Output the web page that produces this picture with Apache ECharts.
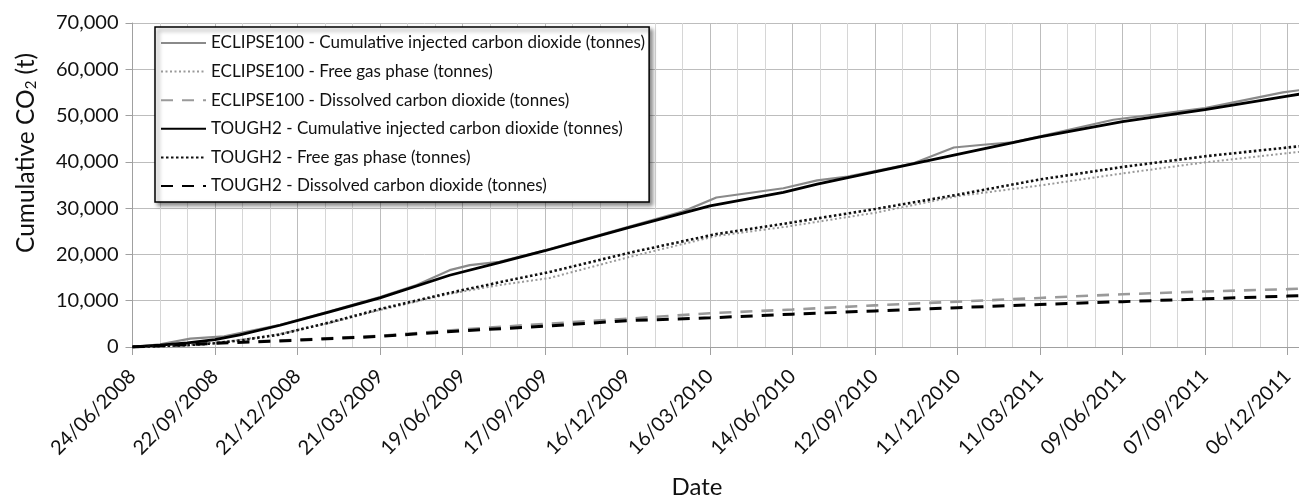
<!DOCTYPE html>
<html>
<head>
<meta charset="utf-8">
<script src="https://cdn.jsdelivr.net/npm/echarts@6/dist/echarts.min.js"></script>
<style>
html,body{margin:0;padding:0;background:#fff;}
#chart{width:1299px;height:497px;}
</style>
</head>
<body>
<div id="chart"></div>
<script>
// Day 0 = 24/06/2008; x values are days since that date
const START_DATE = [2008, 5, 24];
const X_MIN = 0, X_MAX = 1350, X_STEP = 90;
const Y_MIN = 0, Y_MAX = 70000, Y_STEP = 10000;

const seriesNames = [
  'ECLIPSE100 - Cumulative injected carbon dioxide (tonnes)',
  'ECLIPSE100 - Free gas phase (tonnes)',
  'ECLIPSE100 - Dissolved carbon dioxide (tonnes)',
  'TOUGH2 - Cumulative injected carbon dioxide (tonnes)',
  'TOUGH2 - Free gas phase (tonnes)',
  'TOUGH2 - Dissolved carbon dioxide (tonnes)'
];

const eclCumDays = [0,30,63,100,161,215,270,310,346,368,400,450,543,601,637,710,747,780,852,896,928,960,990,1070,1170,1255,1285];
const eclCumVals = [0,600,1800,2300,4800,7700,10800,13400,16600,17700,18400,20900,26100,29300,32300,34300,36000,36800,39700,43100,43700,44200,45500,49100,51600,55000,55800];

const eclFreeDays = [0,60,90,120,161,183,215,270,346,401,455,543,637,710,810,900,990,1080,1170,1260,1285];
const eclFreeVals = [0,500,900,1600,2800,3800,5200,8000,11500,13400,14900,19500,24000,25900,29000,32600,34900,37500,39900,41900,42400];

const eclDissDays = [0,60,90,120,183,270,360,450,540,630,720,810,900,990,1080,1170,1260,1285];
const eclDissVals = [0,700,1000,1100,1600,2400,3800,5000,6100,7300,8100,9000,9800,10600,11400,12000,12500,12700];

const tCumDays = [0,30,60,90,117,161,215,270,346,401,450,543,630,710,747,783,900,990,1080,1170,1260,1285];
const tCumVals = [0,400,900,1600,2600,4700,7600,10600,15500,18300,20800,25900,30500,33400,35200,36700,41600,45400,48700,51300,54200,55000];

const tFreeDays = [0,60,90,120,161,183,215,270,346,401,455,543,637,710,810,900,990,1080,1170,1260,1285];
const tFreeVals = [0,400,800,1500,2700,3800,5300,8200,11700,14000,16200,20400,24400,26600,29800,32900,36200,38900,41200,43100,43600];

const tDissDays = [0,60,90,120,183,270,360,450,540,630,720,810,900,990,1080,1170,1260,1285];
const tDissVals = [0,500,800,1000,1500,2300,3500,4500,5700,6300,7100,7800,8500,9200,9800,10400,11000,11100];

function pairs(d, v){ return d.map((x,i)=>[x, v[i]]); }
function fmtDate(days){
  const t = Date.UTC(START_DATE[0], START_DATE[1], START_DATE[2]) + Math.round(days)*86400000;
  const d = new Date(t);
  const dd = String(d.getUTCDate()).padStart(2,'0');
  const mm = String(d.getUTCMonth()+1).padStart(2,'0');
  return dd + '/' + mm + '/' + d.getUTCFullYear();
}
function fmtNum(v){ return String(v).replace(/\B(?=(\d{3})+(?!\d))/g, ','); }

const FONT = 'Lato';
const styles = [
  {color:'#8a8a8a', width:2.2, type:'solid'},
  {color:'#9a9a9a', width:2, type:[2,2.5]},
  {color:'#9a9a9a', width:2.6, type:[12,9]},
  {color:'#000000', width:2.8, type:'solid'},
  {color:'#111111', width:2.6, type:[2.5,2.5]},
  {color:'#000000', width:3, type:[12,9]}
];
const dataSets = [
  pairs(eclCumDays, eclCumVals),
  pairs(eclFreeDays, eclFreeVals),
  pairs(eclDissDays, eclDissVals),
  pairs(tCumDays, tCumVals),
  pairs(tFreeDays, tFreeVals),
  pairs(tDissDays, tDissVals)
];

const chart = echarts.init(document.getElementById('chart'), null, {renderer:'canvas'});
chart.setOption({
  animation:false,
  backgroundColor:'#fff',
  grid:{left:132.5, top:23, bottom:150, width:1237.5, containLabel:false, outerBoundsMode:'none'},
  legend:{
    orient:'vertical', left:155, top:27,
    itemWidth:45, itemHeight:14, itemGap:8.6,
    padding:[6,4,6,5],
    backgroundColor:'#fff', borderColor:'#000', borderWidth:1.5,
    shadowColor:'rgba(0,0,0,0.45)', shadowBlur:4, shadowOffsetX:3, shadowOffsetY:3,
    itemStyle:{opacity:0},
    textStyle:{fontFamily:FONT, fontSize:17, color:'#111', lineHeight:20},
    data:seriesNames
  },
  xAxis:{
    type:'value', min:X_MIN, max:X_MAX, interval:X_STEP,
    axisLine:{show:true, lineStyle:{color:'#a0a0a0', width:1}},
    axisTick:{show:true, length:8, lineStyle:{color:'#a0a0a0'}},
    axisLabel:{rotate:45, fontFamily:FONT, fontSize:20, color:'#111', margin:26, formatter:fmtDate, showMaxLabel:false},
    splitLine:{show:true, lineStyle:{color:'#bdbdbd', width:1}},
    minorTick:{show:false, splitNumber:3},
    minorSplitLine:{show:true, lineStyle:{color:'#d6d6d6', width:1}}
  },
  yAxis:{
    type:'value', min:Y_MIN, max:Y_MAX, interval:Y_STEP,
    axisLine:{show:true, lineStyle:{color:'#a0a0a0', width:1}},
    axisTick:{show:true, length:7, lineStyle:{color:'#a0a0a0'}},
    axisLabel:{fontFamily:FONT, fontSize:20, color:'#111', margin:14, formatter:fmtNum},
    splitLine:{show:true, lineStyle:{color:'#bdbdbd', width:1}}
  },
  graphic:[
    {type:'text', x:24, y:153, rotation:Math.PI/2,
     style:{text:'{a|Cumulative CO}{s|2}{a| (t)}', align:'center', verticalAlign:'middle',
       rich:{a:{fontFamily:FONT, fontSize:24.5, fill:'#111', lineHeight:30, verticalAlign:'bottom'},
             s:{fontFamily:FONT, fontSize:15, fill:'#111', lineHeight:12, verticalAlign:'bottom'}}}},
    {type:'text', x:697, y:487,
     style:{text:'Date', fontFamily:FONT, fontSize:24, fill:'#111', align:'center', verticalAlign:'middle'}}
  ],
  series: seriesNames.map((n,i)=>({
    name:n, type:'line', data:dataSets[i], symbol:'none', showSymbol:false,
    lineStyle:{color:styles[i].color, width:styles[i].width, type:styles[i].type},
    itemStyle:{color:styles[i].color},
    z: i < 3 ? 2 : 3
  }))
});
</script>
</body>
</html>
